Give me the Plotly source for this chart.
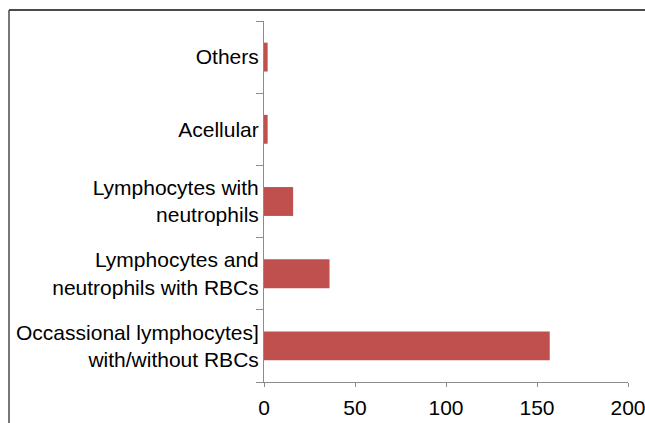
import plotly.graph_objects as go

# Cytology pattern categories, listed bottom to top
categories = [
    "Occassional lymphocytes]<br>with/without RBCs",
    "Lymphocytes and<br>neutrophils with RBCs",
    "Lymphocytes with<br>neutrophils",
    "Acellular",
    "Others",
]
counts = [157, 36, 16, 2, 2]
x_ticks = [0, 50, 100, 150, 200]

W, H = 645, 423
L, R, T, B = 264, 17, 21, 41
pw, ph = W - L - R, H - T - B


def px_x(px):
    return (px - L) / pw


def px_y(py):
    return (H - B - py) / ph


fig = go.Figure(
    go.Bar(
        x=counts,
        y=categories,
        orientation="h",
        marker=dict(color="#C0504D", line=dict(width=0)),
        hoverinfo="x+y",
    )
)

axis_font = dict(family="Liberation Sans, Arial, sans-serif", size=21, color="#000000")

fig.update_layout(
    template="none",
    width=W,
    height=H,
    margin=dict(l=L, r=R, t=T, b=B, pad=0),
    paper_bgcolor="white",
    plot_bgcolor="white",
    bargap=0.6,
    showlegend=False,
    xaxis=dict(
        automargin=False,
        range=[0, 200],
        tickvals=x_ticks,
        ticks="outside",
        ticklen=4,
        tickcolor="#8c8c8c",
        showline=True,
        linecolor="#8c8c8c",
        linewidth=1,
        showgrid=False,
        zeroline=False,
        tickfont=axis_font,
        ticklabeloverflow="allow",
        ticklabelstandoff=3,
        fixedrange=True,
    ),
    yaxis=dict(
        automargin=False,
        type="category",
        categoryorder="array",
        categoryarray=categories,
        ticks="outside",
        tickson="boundaries",
        ticklen=7,
        tickcolor="#8c8c8c",
        showline=True,
        linecolor="#8c8c8c",
        linewidth=1,
        showgrid=False,
        zeroline=False,
        tickfont=axis_font,
        ticklabeloverflow="allow",
        fixedrange=True,
    ),
    shapes=[
        # outer frame: top and left edges
        dict(type="line", xref="paper", yref="paper",
             x0=px_x(9), x1=px_x(660), y0=px_y(10), y1=px_y(10),
             line=dict(color="#4a4a4a", width=2)),
        dict(type="line", xref="paper", yref="paper",
             x0=px_x(9), x1=px_x(9), y0=px_y(10), y1=px_y(440),
             line=dict(color="#4a4a4a", width=1.5)),
    ],
)

fig.write_html("out.html")
